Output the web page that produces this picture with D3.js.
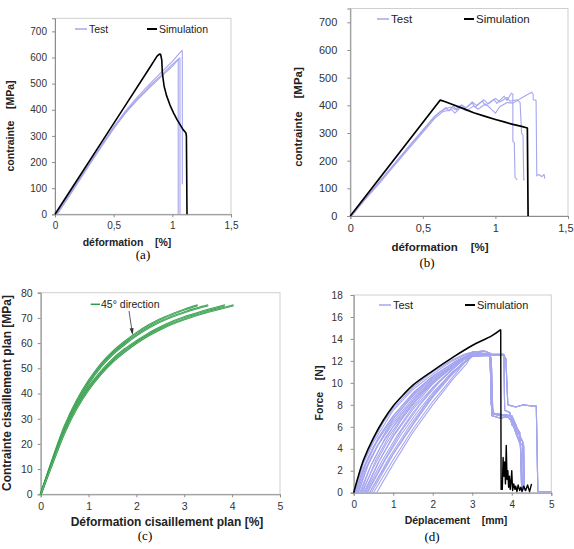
<!DOCTYPE html>
<html>
<head>
<meta charset="utf-8">
<script src="https://cdn.jsdelivr.net/npm/d3@7"></script>
<style>
body { margin: 0; background: #fff; }
text { font-family: "Liberation Sans", Arial, sans-serif; }
</style>
</head>
<body>
<svg id="fig" width="574" height="549"></svg>
<script>
// ---------------------------------------------------------------
//  data (a) : traction, contrainte / déformation
// ---------------------------------------------------------------
const aTicksX = [0, 0.5, 1, 1.5];
const aTicksY = [0, 100, 200, 300, 400, 500, 600, 700];
const aSim = [[0,0],[0.2,139],[0.4,278],[0.6,417],[0.8,556],[0.87,605],[0.89,613],[0.9,612],[0.91,590],
  [0.915,540],[0.93,490],[0.95,455],[0.98,418],[1.01,388],[1.04,362],[1.07,340],[1.09,325],[1.115,312],[1.12,300],[1.125,0]];
const aTests = [
  [[0.01,0],[0.1,62],[0.2,130],[0.3,200],[0.4,268],[0.5,335],[0.6,395],[0.7,447],[0.8,495],[0.9,540],[1.0,585],[1.08,626],[1.085,626],[1.085,115]],
  [[0.02,0],[0.1,55],[0.2,124],[0.3,194],[0.4,262],[0.5,328],[0.6,387],[0.7,437],[0.8,482],[0.9,525],[1.0,566],[1.06,598],[1.065,598],[1.065,0]],
  [[0.015,0],[0.1,58],[0.2,127],[0.3,197],[0.4,265],[0.5,331],[0.6,390],[0.7,441],[0.8,488],[0.9,530],[1.0,574],[1.05,594],[1.05,0]]
];

// ---------------------------------------------------------------
//  data (b)
// ---------------------------------------------------------------
const bTicksX = [0, 0.5, 1, 1.5];
const bTicksY = [0, 100, 200, 300, 400, 500, 600, 700];
const bSim = [[0,0],[0.62,419],[0.65,414],[0.7,404],[0.78,388],[0.85,373],[0.93,360],[1.0,349],[1.06,340],[1.12,331],[1.18,324],[1.22,318],[1.225,0]];
const bTests = [
  [[0,0],[0.1,60],[0.2,122],[0.3,185],[0.4,248],[0.5,308],[0.58,358],[0.63,380],[0.66,392],[0.68,380],[0.71,398],[0.73,383],[0.77,402],[0.79,388],
   [0.84,408],[0.86,393],[0.91,415],[0.93,400],[0.99,422],[1.01,407],[1.06,433],[1.08,418],[1.11,444],[1.12,440],[1.12,270],[1.13,265],[1.135,140],[1.15,130]],
  [[0.01,0],[0.1,58],[0.2,118],[0.3,180],[0.4,242],[0.5,302],[0.58,352],[0.64,378],[0.7,384],[0.72,372],[0.76,392],[0.8,380],[0.85,398],[0.88,386],
   [0.93,405],[0.96,392],[1.0,372],[1.03,395],[1.08,410],[1.12,408],[1.16,420],[1.2,433],[1.25,447],[1.26,440],[1.26,420],[1.28,418],[1.285,145],
   [1.3,150],[1.32,142],[1.335,150],[1.34,135]],
  [[0.005,0],[0.1,61],[0.2,124],[0.3,187],[0.4,250],[0.5,311],[0.58,360],[0.62,378],[0.66,388],[0.69,394],[0.72,386],[0.76,400],[0.8,392],[0.84,412],
   [0.87,400],[0.92,420],[0.95,405],[1.0,425],[1.03,412],[1.08,428],[1.1,415],[1.15,420],[1.17,410],[1.18,300],[1.19,292],[1.195,130],[1.2,135]]
];

// ---------------------------------------------------------------
//  data (c) : cisaillement plan
// ---------------------------------------------------------------
const cTicksX = [0, 1, 2, 3, 4, 5];
const cTicksY = [0, 10, 20, 30, 40, 50, 60, 70, 80];
const cCurves = [
  [[0,0],[0.25,14],[0.5,27],[0.75,37],[1,45],[1.25,51.5],[1.5,56.5],[1.75,60.5],[2,64],[2.25,67],[2.5,69.5],[2.75,71.5],[3,73.3],[3.28,75]],
  [[0,0],[0.25,13.5],[0.5,26],[0.75,36],[1,44],[1.25,50.5],[1.5,55.5],[1.75,59.5],[2,63],[2.25,66],[2.5,68.5],[2.75,70.5],[3,72.2],[3.25,73.7],[3.5,75]],
  [[0,0],[0.25,13],[0.5,25],[0.75,35],[1,42.5],[1.25,48.5],[1.5,53.5],[1.75,57.5],[2,60.8],[2.25,63.8],[2.5,66.3],[2.75,68.5],[3,70.3],[3.25,71.8],[3.5,73.2],[3.85,75]],
  [[0,0],[0.25,12.5],[0.5,24.5],[0.75,34],[1,41.5],[1.25,47.5],[1.5,52.5],[1.75,56.5],[2,60],[2.25,63],[2.5,65.5],[2.75,67.6],[3,69.4],[3.25,71],[3.5,72.4],[3.75,73.6],[4.03,75]]
];

// ---------------------------------------------------------------
//  data (d) : force / déplacement
// ---------------------------------------------------------------
const dTicksX = [0, 1, 2, 3, 4, 5];
const dTicksY = [0, 2, 4, 6, 8, 10, 12, 14, 16, 18];
const dSimRise = [[0,0],[0.1,1.3],[0.25,3.0],[0.5,5.0],[0.75,6.6],[1,7.9],[1.25,8.9],[1.5,9.8],[2,11.1],[2.5,12.3],[3,13.4],[3.5,14.3],[3.72,14.85]];
const dSimTail = [[3.72,14.85],[3.73,0.3],[3.76,0.3],[3.78,3.2],[3.8,1.5],[3.82,2.8],[3.84,0.8],[3.86,4.3],[3.88,1.2],[3.9,2.0],[3.92,0.5],
  [3.94,1.5],[3.96,0.3],[3.98,1.0],[4.0,2.0],[4.02,0.2],[4.05,0.8],[4.08,0.3],[4.1,0.6],[4.13,0.1],[4.16,0.7],[4.2,0.2],[4.23,0.5],
  [4.26,0.1],[4.3,0.6],[4.35,0.2],[4.4,0.7],[4.45,0.1],[4.5,0.8]];
const dTestRise = [
  [[0,0],[0.1,1.2],[0.25,2.8],[0.5,4.8],[0.75,6.4],[1,7.7],[1.5,9.6],[2,11.0],[2.5,12.1],[2.8,12.6]],
  [[0.05,0],[0.3,2.5],[0.5,4.0],[0.75,5.7],[1,7.0],[1.5,9.0],[2,10.6],[2.5,11.8],[2.8,12.4]],
  [[0.1,0],[0.35,2.4],[0.6,4.2],[1,6.5],[1.5,8.6],[2,10.3],[2.5,11.6],[2.9,12.6]],
  [[0.15,0],[0.4,2.2],[0.7,4.3],[1,6.0],[1.5,8.2],[2,10.0],[2.5,11.4],[2.8,12.2]],
  [[0.2,0],[0.5,2.3],[0.8,4.3],[1.2,6.6],[1.6,8.5],[2,10.0],[2.5,11.5],[2.9,12.4]],
  [[0.25,0],[0.6,2.6],[1,5.2],[1.5,7.8],[2,9.9],[2.5,11.5],[2.8,12.3]],
  [[0.3,0],[0.7,2.8],[1.1,5.2],[1.5,7.3],[2,9.5],[2.5,11.2],[2.9,12.5]],
  [[0.35,0],[0.8,3.0],[1.2,5.3],[1.6,7.3],[2,9.1],[2.5,11.0],[2.8,11.9]],
  [[0.4,0],[0.9,3.2],[1.4,6.0],[1.9,8.5],[2.4,10.6],[2.7,11.6]],
  [[0.45,0],[1.0,3.5],[1.5,6.2],[2,8.7],[2.5,10.8],[2.8,11.8]],
  [[0.5,0],[1.0,3.0],[1.5,5.8],[2,8.3],[2.5,10.5],[2.8,11.8]],
  [[0.58,0],[1.0,2.6],[1.5,5.5],[2,8.0],[2.5,10.3],[2.85,11.7]],
  [[0.03,0],[0.25,2.3],[0.5,4.2],[1,6.8],[1.5,8.8],[2,10.4],[2.5,11.6],[3.0,12.7]],
  [[0.08,0],[0.3,2.2],[0.6,4.3],[1,6.3],[1.5,8.4],[2,10.1],[2.5,11.5],[3.1,12.8]],
  [[0.02,0],[0.25,2.7],[0.5,4.6],[1,7.5],[1.5,9.4],[2,10.8],[2.5,12.0],[2.9,12.7]],
  [[0.06,0],[0.3,2.7],[0.6,4.9],[1,7.0],[1.5,9.1],[2,10.6],[2.6,12.0],[3.0,12.6]],
  [[0.12,0],[0.4,2.9],[0.7,4.9],[1,6.7],[1.5,8.9],[2,10.5],[2.6,12.0],[2.9,12.5]],
  [[0.18,0],[0.45,2.6],[0.8,5.0],[1.2,7.1],[1.6,8.8],[2,10.2],[2.6,11.9],[2.9,12.4]],
  [[0.22,0],[0.55,2.9],[0.9,5.2],[1.3,7.2],[1.8,9.3],[2.3,11.0],[2.7,12.1]],
  [[0.28,0],[0.65,2.9],[1.0,5.1],[1.5,7.6],[2,9.6],[2.5,11.3],[2.8,12.1]],
  [[0.33,0],[0.75,2.8],[1.2,5.6],[1.7,8.1],[2.2,10.2],[2.7,11.9]],
  [[0.4,0],[0.85,2.7],[1.3,5.2],[1.8,7.9],[2.3,10.1],[2.75,11.8]]
];
const dTestTail = [
  [[3.0,12.8],[3.3,12.9],[3.45,12.7],[3.48,8.0],[3.55,7.2],[3.8,7.1],[4.0,7.0],[4.1,6.2],[4.2,5.2],[4.28,4.6],[4.3,0.3]],
  [[3.0,12.6],[3.4,12.6],[3.45,12.4],[3.5,7.0],[3.7,6.8],[3.9,6.9],[4.0,6.5],[4.15,5.0],[4.22,4.5],[4.25,0.2]],
  [[3.0,12.5],[3.5,12.5],[3.8,12.5],[3.85,12.2],[3.9,8.0],[4.1,7.8],[4.3,8.0],[4.5,7.9],[4.62,7.9],[4.66,0.1],[5.0,0.1]],
  [[3.1,12.7],[3.5,12.6],[3.8,12.6],[3.82,7.5],[3.95,7.3],[4.0,6.2],[4.1,5.8],[4.2,4.5],[4.3,4.3],[4.32,0.2]],
  [[3.0,12.4],[3.4,12.5],[3.48,12.3],[3.52,7.2],[3.7,7.0],[3.95,7.0],[4.1,6.0],[4.2,5.5],[4.27,0.4]]
];
const dTailOf = [0, 2, 1, 3, 4, 0, 2, 1, 3, 4, 0, 1, 2, 3, 1, 0, 4, 2, 3, 1, 0, 4];

// ---------------------------------------------------------------
//  helpers
// ---------------------------------------------------------------
const svg = d3.select('#fig');
const testColor = '#a6a6ef';
const comma = d => String(d).replace('.', ',');

function makePanel(o) {
  const x = d3.scaleLinear().domain(o.xDom).range(o.xRange);
  const y = d3.scaleLinear().domain(o.yDom).range(o.yRange);
  const g = svg.append('g');

  // cadre gris
  g.append('rect')
    .attr('x', o.xRange[0]).attr('y', o.yRange[1])
    .attr('width', o.xRange[1] - o.xRange[0])
    .attr('height', o.yRange[0] - o.yRange[1])
    .attr('fill', 'none').attr('stroke', '#cfcfcf').attr('stroke-width', 1);

  const ax = g.append('g')
    .attr('transform', `translate(0,${o.yRange[0]})`)
    .call(d3.axisBottom(x).tickValues(o.xTicks).tickSize(3).tickPadding(o.xPad || 5).tickFormat(comma));
  const ay = g.append('g')
    .attr('transform', `translate(${o.xRange[0]},0)`)
    .call(d3.axisLeft(y).tickValues(o.yTicks).tickSize(3).tickPadding(o.yPad || 5).tickFormat(comma));
  [ax, ay].forEach(a => {
    a.select('.domain').attr('stroke', '#8c8c8c');
    a.selectAll('.tick line').attr('stroke', '#8c8c8c');
    a.selectAll('.tick text')
      .attr('fill', '#333')
      .style('font-family', '"Liberation Sans", Arial, sans-serif')
      .style('font-size', o.tickFont + 'px');
  });

  // titres
  g.append('text')
    .attr('x', o.xTitle[0]).attr('y', o.xTitle[1])
    .attr('text-anchor', 'middle')
    .style('font-weight', 'bold').style('font-size', o.titleFont + 'px')
    .style('white-space', 'pre').attr('fill', '#222')
    .text(o.xLabel);
  g.append('text')
    .attr('transform', `translate(${o.yTitle[0]},${o.yTitle[1]}) rotate(-90)`)
    .attr('text-anchor', 'middle')
    .style('font-weight', 'bold').style('font-size', o.titleFont + 'px')
    .style('white-space', 'pre').attr('fill', '#222')
    .text(o.yLabel);

  // légende (a)(b)(c)(d)
  svg.append('text')
    .attr('x', o.cap[0]).attr('y', o.cap[1])
    .attr('text-anchor', 'middle')
    .style('font-family', '"Liberation Serif", "Times New Roman", serif')
    .style('font-size', '13px')
    .text(o.capText);

  return { x, y, g, ax, ay };
}

function drawLine(p, pts, color, w, curve) {
  const line = d3.line().x(d => p.x(d[0])).y(d => p.y(d[1])).curve(curve || d3.curveLinear);
  p.g.append('path').datum(pts)
    .attr('d', line)
    .attr('fill', 'none').attr('stroke', color)
    .attr('stroke-width', w).attr('stroke-linejoin', 'round');
}

function legendTestSim(p, tx, simx, ly, fs) {
  p.g.append('line').attr('x1', tx).attr('x2', tx + 12).attr('y1', ly).attr('y2', ly)
    .attr('stroke', testColor).attr('stroke-width', 1.5);
  p.g.append('text').attr('x', tx + 14).attr('y', ly + 4).style('font-size', fs + 'px').attr('fill', '#222').text('Test');
  p.g.append('line').attr('x1', simx).attr('x2', simx + 10).attr('y1', ly).attr('y2', ly)
    .attr('stroke', '#000').attr('stroke-width', 2);
  p.g.append('text').attr('x', simx + 12).attr('y', ly + 4).style('font-size', fs + 'px').attr('fill', '#222').text('Simulation');
}

// ---------------------------------------------------------------
//  (a)
// ---------------------------------------------------------------
const pa = makePanel({
  xDom: [0, 1.5], xRange: [55, 231], yDom: [0, 750], yRange: [214.3, 18.3],
  xTicks: aTicksX, yTicks: aTicksY, tickFont: 10,
  xLabel: 'déformation    [%]', yLabel: 'contrainte    [MPa]',
  xTitle: [127, 246], yTitle: [14, 126], titleFont: 10.5,
  cap: [143, 259], capText: '(a)'
});
aTests.forEach(t => drawLine(pa, t, testColor, 1.1));
drawLine(pa, aSim, '#000', 1.6);
legendTestSim(pa, 75, 147, 29, 10.5);

// ---------------------------------------------------------------
//  (b)
// ---------------------------------------------------------------
const pb = makePanel({
  xDom: [0, 1.5], xRange: [350.3, 568], yDom: [0, 750], yRange: [216, 8.5],
  xTicks: bTicksX, yTicks: bTicksY, tickFont: 11, yPad: 10,
  xLabel: 'déformation    [%]', yLabel: 'contrainte    [MPa]',
  xTitle: [440, 251], yTitle: [302, 117], titleFont: 11.5,
  cap: [427, 267], capText: '(b)'
});
// dernier libellé collé au bord droit
pb.ax.selectAll('.tick text').filter(d => d === 1.5).attr('text-anchor', 'end').attr('dx', 5);
bTests.forEach(t => drawLine(pb, t, testColor, 1.1));
drawLine(pb, bSim, '#000', 1.7);
legendTestSim(pb, 377, 464, 19, 11.5);

// ---------------------------------------------------------------
//  (c)
// ---------------------------------------------------------------
const pc = makePanel({
  xDom: [0, 5], xRange: [40.7, 280], yDom: [0, 80], yRange: [494.3, 292.7],
  xTicks: cTicksX, yTicks: cTicksY, tickFont: 10.5,
  xLabel: 'Déformation cisaillement plan [%]', yLabel: 'Contrainte cisaillement plan [MPa]',
  xTitle: [167, 526], yTitle: [11, 393], titleFont: 12,
  cap: [145, 540], capText: '(c)'
});
cCurves.forEach(c => {
  drawLine(pc, c, '#2f9a47', 2, d3.curveCatmullRom);
  drawLine(pc, c, '#9ad6a6', 0.5, d3.curveCatmullRom);
});
pc.g.append('line').attr('x1', 90.7).attr('x2', 100).attr('y1', 304.3).attr('y2', 304.3)
  .attr('stroke', '#2f9a47').attr('stroke-width', 1.5);
pc.g.append('text').attr('x', 101).attr('y', 308).style('font-size', '10.5px').attr('fill', '#222').text('45° direction');
pc.g.append('line').attr('x1', 129).attr('y1', 311).attr('x2', 132.3).attr('y2', 333)
  .attr('stroke', '#333').attr('stroke-width', 0.8);
pc.g.append('path').attr('d', 'M129.6,328.5 L132.6,335 L133.6,328').attr('fill', '#333');

// ---------------------------------------------------------------
//  (d)
// ---------------------------------------------------------------
const pd = makePanel({
  xDom: [0, 5], xRange: [353.7, 551.3], yDom: [0, 18], yRange: [492.7, 295],
  xTicks: dTicksX, yTicks: dTicksY, tickFont: 10, yPad: 8,
  xLabel: 'Déplacement    [mm]', yLabel: 'Force    [N]',
  xTitle: [456, 524], yTitle: [323, 393], titleFont: 10.5,
  cap: [432, 541], capText: '(d)'
});
dTestRise.forEach((r, i) => {
  const tail = dTestTail[dTailOf[i]].filter(p => p[0] > r[r.length - 1][0]);
  drawLine(pd, r.concat(tail), testColor, 1.1);
});
drawLine(pd, dSimRise, '#000', 1.6, d3.curveCatmullRom);
drawLine(pd, dSimTail, '#000', 1.4);
legendTestSim(pd, 379, 465, 305, 11);
</script>
</body>
</html>
